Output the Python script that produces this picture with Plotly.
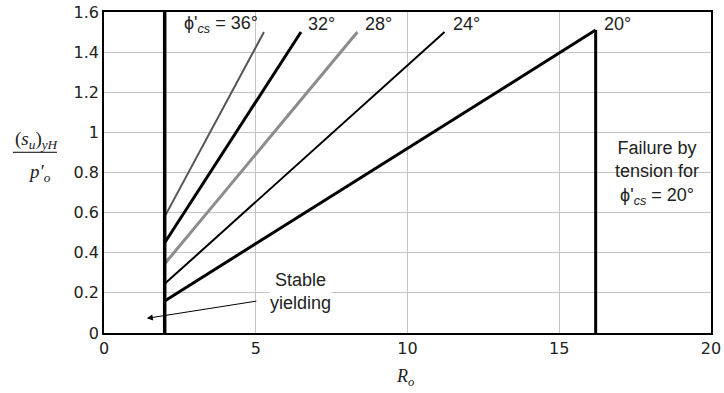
import plotly.graph_objects as go

# ---- data ----
phi_labels = ["36°", "32°", "28°", "24°", "20°"]
ro_start = [2, 2, 2, 2, 2]
su_start = [0.58, 0.45, 0.345, 0.245, 0.16]
ro_end = [5.27, 6.49, 8.35, 11.22, 16.2]
su_end = [1.5, 1.5, 1.5, 1.5, 1.51]

stable_ro = [2, 2]
stable_su = [0, 1.6]
tension_ro = [16.2, 16.2]
tension_su = [0, 1.51]

x_ticks = [0, 5, 10, 15, 20]
y_ticks = [0, 0.2, 0.4, 0.6, 0.8, 1, 1.2, 1.4, 1.6]
y_ticktext = ["0", "0.2", "0.4", "0.6", "0.8", "1", "1.2", "1.4", "1.6"]

colors = ["#555555", "#000000", "#8c8c8c", "#000000", "#000000"]
widths = [2, 3, 3, 2, 3]

SANS = "Liberation Sans, Arial, sans-serif"
TICK = "DejaVu Sans, Verdana, sans-serif"
SERIF = "Liberation Serif, Times New Roman, serif"
PHI = "ϕ'<sub><i>cs</i></sub>"

fig = go.Figure()
for i in range(len(phi_labels)):
    fig.add_trace(go.Scatter(x=[ro_start[i], ro_end[i]], y=[su_start[i], su_end[i]],
                             mode="lines", line=dict(color=colors[i], width=widths[i]),
                             showlegend=False, hoverinfo="skip"))
fig.add_trace(go.Scatter(x=stable_ro, y=stable_su, mode="lines",
                         line=dict(color="black", width=3.5), showlegend=False))
fig.add_trace(go.Scatter(x=tension_ro, y=tension_su, mode="lines",
                         line=dict(color="black", width=3), showlegend=False))

# curve labels
label_pos = [(5.14, "right"), (6.66, "left"), (8.53, "left"), (11.43, "left"), (16.41, "left")]
for i, (lx, anc) in enumerate(label_pos):
    txt = phi_labels[i] if i else PHI + " = " + phi_labels[i]
    fig.add_annotation(x=lx, y=1.54, text=txt, showarrow=False, xanchor=anc,
                       yanchor="middle", font=dict(family=SANS, size=18, color="#222"))

fig.add_annotation(x=18.22, y=0.80, text="Failure by<br>tension for<br>" + PHI + " = 20°",
                   showarrow=False, align="center", xanchor="center", yanchor="middle",
                   font=dict(family=SANS, size=18, color="#222"))

fig.add_annotation(x=6.46, y=0.207, text="Stable<br>yielding", showarrow=False,
                   align="center", xanchor="center", yanchor="middle", bgcolor="white",
                   borderpad=0, font=dict(family=SANS, size=18, color="#222"))
fig.add_annotation(x=1.41, y=0.073, ax=5.07, ay=0.16, axref="x", ayref="y",
                   xref="x", yref="y", text="", showarrow=True, arrowhead=2,
                   arrowsize=1.2, arrowwidth=1, arrowcolor="black")

# y-axis fraction title
fig.add_annotation(xref="paper", yref="paper", x=-0.150, y=0.60, xanchor="left",
                   yanchor="middle",
                   text="(<i>s<sub>u</sub></i>)<sub><i>yH</i></sub>", showarrow=False,
                   font=dict(family=SERIF, size=19, color="#222"))
fig.add_shape(type="line", xref="paper", yref="paper", x0=-0.150, x1=-0.0774,
              y0=0.563, y1=0.563, line=dict(color="black", width=1))
fig.add_annotation(xref="paper", yref="paper", x=-0.129, y=0.50, xanchor="left",
                   yanchor="middle",
                   text="<i>p′<sub>o</sub></i>", showarrow=False,
                   font=dict(family=SERIF, size=19, color="#222"))
fig.add_annotation(xref="paper", yref="paper", x=0.496, y=-0.140,
                   xanchor="center", yanchor="middle",
                   text="<i>R<sub>o</sub></i>", showarrow=False,
                   font=dict(family=SERIF, size=18, color="#222"))

fig.update_xaxes(range=[0, 20], tickvals=x_ticks, showgrid=True, gridcolor="#c4c4c4",
                 gridwidth=1, showline=True, mirror=True, linecolor="black", linewidth=1.5,
                 zeroline=False, ticks="", tickfont=dict(family=TICK, size=16, color="#222"))
fig.update_yaxes(range=[0, 1.6], tickvals=y_ticks, ticktext=y_ticktext, showgrid=True,
                 gridcolor="#c4c4c4", gridwidth=1, showline=True, mirror=True,
                 linecolor="black", linewidth=1.5, zeroline=False, ticks="",
                 tickfont=dict(family=TICK, size=16, color="#222"))

fig.update_layout(width=724, height=393,
                  margin=dict(l=104, r=13, t=12, b=60, autoexpand=False),
                  plot_bgcolor="white", paper_bgcolor="white", showlegend=False)

fig.write_html("out.html", config={"responsive": False, "displayModeBar": False},
               post_script="document.body.style.margin='0';document.body.style.overflow='hidden';")
